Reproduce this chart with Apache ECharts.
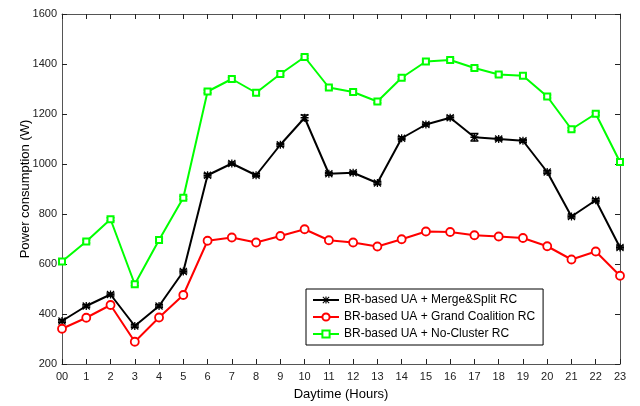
<!DOCTYPE html>
<html>
<head>
<meta charset="utf-8">
<script src="https://cdn.jsdelivr.net/npm/echarts@6/dist/echarts.min.js"></script>
<style>
  html, body { margin: 0; padding: 0; background: #fff; }
  #chart { width: 640px; height: 406px; }
</style>
</head>
<body>
<div id="chart"></div>
<script>
// Hours of the day
const hours = ['00','1','2','3','4','5','6','7','8','9','10','11','12','13','14','15','16','17','18','19','20','21','22','23'];

// Power consumption (W) per clustering scheme
const mergeSplit = [372, 432, 478, 352, 432, 570, 955, 1002, 955, 1077, 1185, 961, 965, 924, 1103, 1158, 1185, 1107, 1100, 1093, 968, 790, 855, 666];
const grandCoalition = [341, 385, 436, 289, 386, 476, 693, 706, 686, 712, 739, 695, 686, 670, 699, 730, 728, 715, 710, 704, 671, 618, 650, 553];
const noCluster = [610, 690, 779, 519, 696, 865, 1290, 1340, 1285, 1360, 1428, 1306, 1288, 1250, 1345, 1410, 1416, 1384, 1358, 1353, 1270, 1139, 1201, 1008];

// Error half-widths (W)
const mergeSplitErr = [6, 6, 6, 6, 6, 6, 7, 6, 6, 6, 11, 6, 6, 6, 6, 6, 7, 15, 6, 6, 6, 6, 6, 6];
const noClusterErr = [6, 6, 6, 6, 6, 6, 6, 6, 6, 6, 6, 6, 6, 6, 6, 6, 6, 6, 6, 6, 6, 6, 6, 6];

const yTicks = { min: 200, max: 1600, step: 200 };

const asterisk = 'path://M4.2,0h1.6v10h-1.6z M0,4.2h10v1.6h-10z M1.1,0.1l8.8,8.8l-1,1l-8.8,-8.8z M8.9,0.1l1,1l-8.8,8.8l-1,-1z';

function errorSeries(values, errs, color) {
  return {
    type: 'custom',
    silent: true,
    z: 3,
    data: values.map((v, i) => [i, v - errs[i], v + errs[i]]),
    renderItem: function (params, api) {
      const lo = api.coord([api.value(0), api.value(1)]);
      const hi = api.coord([api.value(0), api.value(2)]);
      const w = 4;
      const st = { stroke: color, lineWidth: 1.5 };
      return {
        type: 'group',
        children: [
          { type: 'line', shape: { x1: lo[0], y1: lo[1], x2: hi[0], y2: hi[1] }, style: st },
          { type: 'line', shape: { x1: lo[0] - w, y1: lo[1], x2: lo[0] + w, y2: lo[1] }, style: st },
          { type: 'line', shape: { x1: hi[0] - w, y1: hi[1], x2: hi[0] + w, y2: hi[1] }, style: st }
        ]
      };
    }
  };
}

const axisColor = '#555';
const fontFamily = 'Liberation Sans, Arial, sans-serif';
const labelFont = { color: '#222', fontSize: 11, fontFamily: fontFamily };

const chart = echarts.init(document.getElementById('chart'), null, { renderer: 'canvas' });
chart.setOption({
  animation: false,
  backgroundColor: '#fff',
  grid: { left: 62, right: 20, top: 14, bottom: 37, containLabel: false },
  legend: {
    left: 306, top: 289,
    orient: 'vertical',
    backgroundColor: '#fff',
    borderColor: '#000', borderWidth: 1, borderRadius: 0,
    padding: [5, 8, 5, 6],
    itemGap: 5,
    itemWidth: 26, itemHeight: 9,
    textStyle: { color: '#000', fontSize: 12, fontFamily: fontFamily },
    data: ['BR-based UA + Merge&Split RC', 'BR-based UA + Grand Coalition RC', 'BR-based UA + No-Cluster RC']
  },
  xAxis: [{
    type: 'category',
    data: hours,
    boundaryGap: false,
    name: 'Daytime (Hours)',
    nameLocation: 'middle',
    nameGap: 24,
    nameTextStyle: { color: '#000', fontSize: 13, fontFamily: fontFamily },
    axisLine: { lineStyle: { color: axisColor, width: 1 } },
    axisTick: { inside: true, length: 5, lineStyle: { color: '#222' }, alignWithLabel: true },
    axisLabel: Object.assign({ margin: 7, interval: 0 }, labelFont),
    splitLine: { show: false }
  }, {
    type: 'category',
    data: hours,
    boundaryGap: false,
    position: 'top',
    axisLine: { lineStyle: { color: axisColor, width: 1 } },
    axisTick: { inside: true, length: 5, lineStyle: { color: '#222' } },
    axisLabel: { show: false },
    splitLine: { show: false }
  }],
  yAxis: [{
    type: 'value',
    min: yTicks.min, max: yTicks.max, interval: yTicks.step,
    name: 'Power consumption (W)',
    nameLocation: 'middle',
    nameGap: 30,
    nameMoveOverlap: false,
    nameTextStyle: { color: '#000', fontSize: 13, fontFamily: fontFamily },
    axisLine: { show: true, lineStyle: { color: axisColor, width: 1 } },
    axisTick: { show: true, inside: true, length: 5, lineStyle: { color: '#222' } },
    axisLabel: Object.assign({ margin: 5, formatter: v => String(v) }, labelFont),
    splitLine: { show: false }
  }, {
    type: 'value',
    min: yTicks.min, max: yTicks.max, interval: yTicks.step,
    position: 'right',
    axisLine: { show: true, lineStyle: { color: axisColor, width: 1 } },
    axisTick: { show: true, inside: true, length: 5, lineStyle: { color: '#222' } },
    axisLabel: { show: false },
    splitLine: { show: false }
  }],
  series: [
    errorSeries(mergeSplit, mergeSplitErr, '#000'),
    errorSeries(noCluster, noClusterErr, '#00ff00'),
    {
      name: 'BR-based UA + Merge&Split RC',
      type: 'line',
      data: mergeSplit,
      z: 4,
      symbol: asterisk,
      symbolSize: 8,
      showAllSymbol: true,
      lineStyle: { color: '#000', width: 2 },
      itemStyle: { color: '#000' }
    },
    {
      name: 'BR-based UA + Grand Coalition RC',
      type: 'line',
      data: grandCoalition,
      z: 4,
      symbol: 'circle',
      symbolSize: 8,
      showAllSymbol: true,
      lineStyle: { color: '#ff0000', width: 2 },
      itemStyle: { color: '#fff', borderColor: '#ff0000', borderWidth: 1.8 }
    },
    {
      name: 'BR-based UA + No-Cluster RC',
      type: 'line',
      data: noCluster,
      z: 4,
      symbol: 'rect',
      symbolSize: 6,
      showAllSymbol: true,
      lineStyle: { color: '#00ff00', width: 2 },
      itemStyle: { color: '#fff', borderColor: '#00ff00', borderWidth: 2 }
    }
  ]
});
</script>
</body>
</html>
